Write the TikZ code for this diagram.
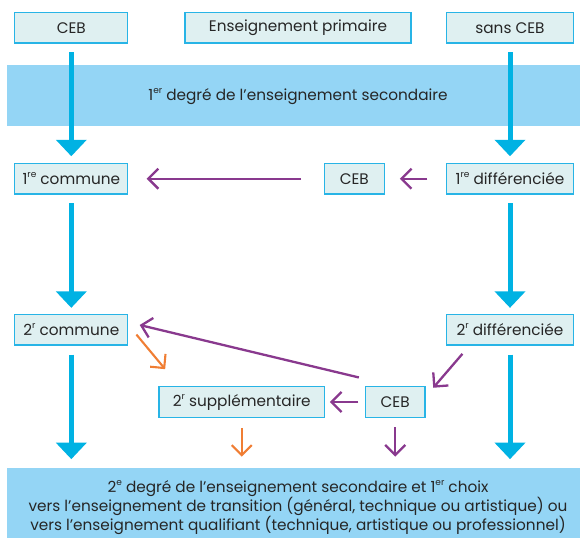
\documentclass[tikz,border=0pt]{standalone}
\usepackage{fontspec}
\setmainfont{Poppins}
\usetikzlibrary{calc,arrows.meta}
\definecolor{boxfill}{RGB}{223,240,241}
\definecolor{boxline}{RGB}{40,180,230}
\definecolor{bandfill}{RGB}{148,213,245}
\definecolor{bigblue}{RGB}{0,178,227}
\definecolor{lilac}{RGB}{137,57,142}
\definecolor{peach}{RGB}{240,126,52}
\def\expo#1{\raisebox{0.8ex}{\fontsize{9pt}{9pt}\selectfont #1}}

\begin{document}
\begin{tikzpicture}[x=1pt,y=-1pt,
	txt/.style={font=\fontsize{15.3pt}{19pt}\selectfont, text=black!85},
	box/.style={txt, draw=boxline, line width=1.2pt, fill=boxfill, minimum height=30.5pt, inner sep=0pt},
	band/.style={fill=bandfill, minimum width=573pt, inner sep=0pt},
	bigarrow/.style={draw=bigblue, line width=5pt, -{Triangle[width=30pt,length=16.5pt]}},
	lilacarrow/.style={draw=lilac, line width=2.3pt, -{Straight Barb[length=10pt,width=20pt]}},
	peacharrow/.style={draw=peach, line width=2.1pt, -{Straight Barb[length=10pt,width=20pt]}}]
		%%%%% START %%%%%
		\useasboundingbox (0,0) rectangle (580,538);
		
		\node[box, minimum width=113pt] (ceba) at (71.3,27.8) {CEB};
		\node[box, minimum width=226pt] (prim) at (298,27.8) {Enseignement primaire};
		\node[box, minimum width=127pt] (sans) at (510,27.8) {sans CEB};
		
		\node[band, minimum height=61pt] (deg1) at (293.5,95.5) {};
		\node[txt] (deg1txt) at (298,96.5) {1\expo{er} degré de l’enseignement secondaire};
		
		\node[box, minimum width=113pt] (com1) at (71.3,178.7) {1\expo{re} commune};
		\node[box, minimum width=60pt] (ceb1) at (354.3,178.7) {CEB};
		\node[box, minimum width=127pt] (dif1) at (510,178.7) {1\expo{re} différenciée};
		
		\node[box, minimum width=113pt] (com2) at (71.3,329.7) {2\expo{r} commune};
		\node[box, minimum width=127pt] (dif2) at (510,329.7) {2\expo{r} différenciée};
		
		\node[box, minimum width=165.5pt] (supp) at (241.8,402) {2\expo{r} supplémentaire};
		\node[box, minimum width=59.5pt] (ceb2) at (395.2,402) {CEB};
		
		\node[band, minimum height=70.3pt] (deg2) at (293.5,502.9) {};
		\node[txt, align=center] (deg2txt) at (298,507.5) {2\expo{e} degré de l’enseignement secondaire et 1\expo{er} choix\\
			vers l’enseignement de transition (général, technique ou artistique) ou\\
			vers l’enseignement qualifiant (technique, artistique ou professionnel)};
		
		\draw[bigarrow, shorten <=8.4pt, shorten >=6.6pt] (ceba.south) -- (com1.north);
		\draw[bigarrow, shorten <=8.4pt, shorten >=6.6pt] (sans.south) -- (dif1.north);
		\draw[bigarrow, shorten <=8.7pt, shorten >=6pt] (com1.south) -- (com2.north);
		\draw[bigarrow, shorten <=8.7pt, shorten >=6pt] (dif1.south) -- (dif2.north);
		\draw[bigarrow, shorten <=9pt, shorten >=8.4pt] (com2.south) -- (com2.south |- deg2.north);
		\draw[bigarrow, shorten <=9pt, shorten >=8.4pt] (dif2.south) -- (dif2.south |- deg2.north);
		
		\draw[lilacarrow, shorten <=22.5pt, shorten >=18.3pt] (ceb1.west) -- (com1.east);
		\draw[lilacarrow, shorten <=18.5pt, shorten >=15pt] (dif1.west) -- (ceb1.east);
		\draw[lilacarrow] ($(dif2.south west)+(16.5,8.3)$) -- ($(ceb2.north east)+(7.7,1.6)$);
		\draw[lilacarrow] ($(ceb2.north west)+(-6,-8.7)$) -- ($(com2.east)+(11.3,-4.7)$);
		\draw[lilacarrow, shorten <=6.6pt, shorten >=4.8pt] (ceb2.west) -- (supp.east);
		\draw[lilacarrow, shorten <=9.4pt, shorten >=11pt] (ceb2.south) -- (ceb2.south |- deg2.north);
		
		\draw[peacharrow] ($(com2.south east)+(8,-11)$) -- ($(supp.north west)+(6.7,-17)$);
		\draw[peacharrow, shorten <=10pt, shorten >=11pt] (supp.south) -- (supp.south |- deg2.north);
		
		%%%%% END %%%%%
	\end{tikzpicture}
\end{document}
